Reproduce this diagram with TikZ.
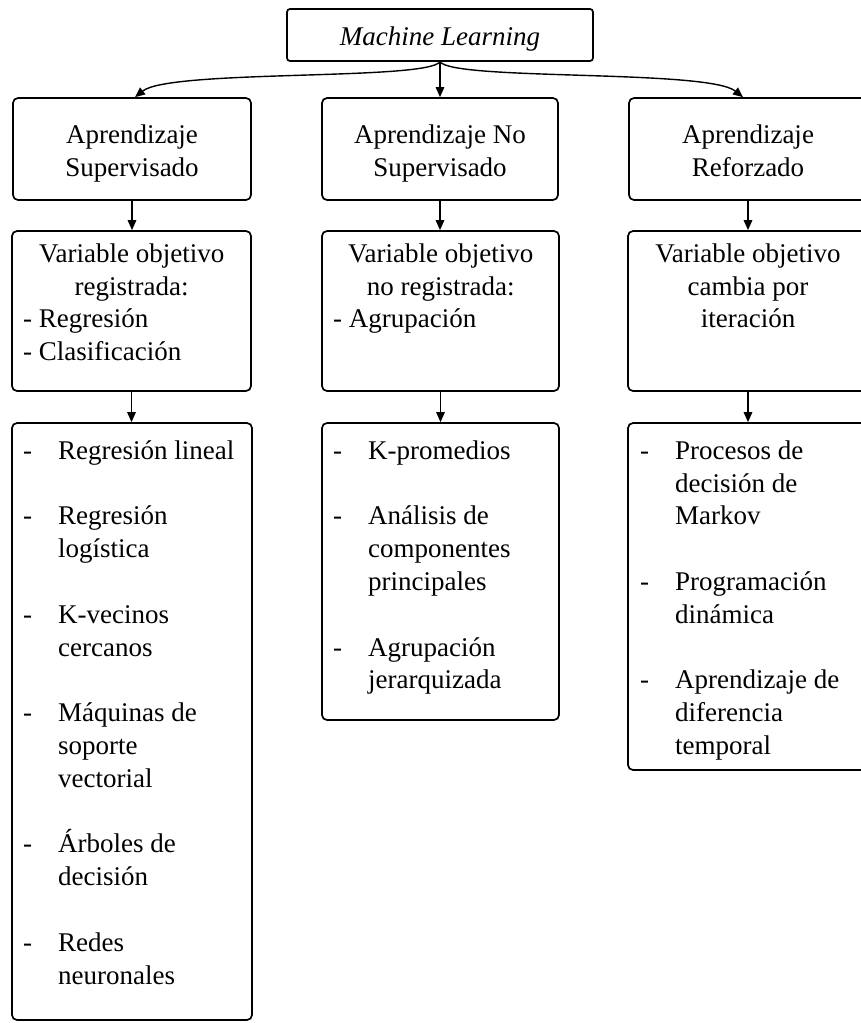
\documentclass[tikz,border=0pt]{standalone}
\usepackage{fontspec}
\setmainfont{Liberation Serif}
\usetikzlibrary{arrows.meta}
\begin{document}
\begin{tikzpicture}[x=1pt,y=-1pt,
  box/.style={draw, line width=1.7pt, rounded corners=5pt, inner sep=0pt},
  txt/.style={inner sep=0pt, font=\fontsize{27}{32.8}\selectfont},
  arr/.style={line width=1.4pt, -{Triangle[length=10pt,width=8.5pt]}}]
\useasboundingbox (0,0) rectangle (860,1023);
\newcommand{\fst}{\rule{0pt}{20pt}}
\newcommand{\itm}{\makebox[35pt][l]{-}}
\newcommand{\cnt}{\hspace*{35pt}}
% top
\node[box, rounded corners=3pt, minimum width=306pt, minimum height=52pt] (ml) at (440,35) {};
\node[txt, anchor=base, font=\fontsize{27}{32.8}\selectfont\itshape] (mlt) at (440,45) {Machine Learning};
% level 2
\node[box, minimum width=238pt, minimum height=102pt] (sup) at (132,149) {};
\node[box, minimum width=236pt, minimum height=102pt] (uns) at (440,149) {};
\node[box, minimum width=238pt, minimum height=102pt] (ref) at (748,149) {};
\node[txt, align=center, anchor=north] (supt) at (132,123) {\fst Aprendizaje\\Supervisado};
\node[txt, align=center, anchor=north] (unst) at (440,123) {\fst Aprendizaje No\\Supervisado};
\node[txt, align=center, anchor=north] (reft) at (748,123) {\fst Aprendizaje\\Reforzado};
% level 3
\node[box, minimum width=239pt, minimum height=160pt] (v1) at (131.5,311) {};
\node[box, minimum width=237pt, minimum height=160pt] (v2) at (440.5,311) {};
\node[box, minimum width=240pt, minimum height=160pt] (v3) at (748,311) {};
\node[txt, align=left, anchor=north west] (v1t) at (23,242)
  {\fst\makebox[217pt][c]{Variable objetivo}\\\makebox[217pt][c]{registrada:}\\- Regresión\\- Clasificación};
\node[txt, align=left, anchor=north west] (v2t) at (333,242)
  {\fst\makebox[215pt][c]{Variable objetivo}\\\makebox[215pt][c]{no registrada:}\\- Agrupación};
\node[txt, align=center, anchor=north] (v3t) at (748,242)
  {\fst Variable objetivo\\cambia por\\iteración};
% level 4
\node[box, minimum width=240pt, minimum height=597pt] (l1) at (132,721.5) {};
\node[box, minimum width=237pt, minimum height=297pt] (l2) at (440.5,571.5) {};
\node[box, minimum width=240pt, minimum height=347pt] (l3) at (748,596.5) {};
\node[txt, align=left, anchor=north west] (l1t) at (23,439)
  {\fst\itm Regresión lineal\\[32.8pt]
   \itm Regresión\\\cnt logística\\[32.8pt]
   \itm K-vecinos\\\cnt cercanos\\[32.8pt]
   \itm Máquinas de\\\cnt soporte\\\cnt vectorial\\[32.8pt]
   \itm Árboles de\\\cnt decisión\\[32.8pt]
   \itm Redes\\\cnt neuronales};
\node[txt, align=left, anchor=north west] (l2t) at (333,439)
  {\fst\itm K-promedios\\[32.8pt]
   \itm Análisis de\\\cnt componentes\\\cnt principales\\[32.8pt]
   \itm Agrupación\\\cnt jerarquizada};
\node[txt, align=left, anchor=north west] (l3t) at (640,439)
  {\fst\itm Procesos de\\\cnt decisión de\\\cnt Markov\\[32.8pt]
   \itm Programación\\\cnt dinámica\\[32.8pt]
   \itm Aprendizaje de\\\cnt diferencia\\\cnt temporal};
% connectors
\draw[arr] (ml.south) -- (uns.north);
\draw[arr] (ml.south) .. controls +(-15,19) and +(35,-28) .. ([xshift=3pt]sup.north);
\draw[arr] (ml.south) .. controls +(15,19) and +(-35,-28) .. ([xshift=-5pt]ref.north);
\draw[arr] (sup.south) -- (sup.south |- v1.north);
\draw[arr] (uns.south) -- (uns.south |- v2.north);
\draw[arr] (ref.south) -- (ref.south |- v3.north);
\draw[arr] (v1.south) -- (v1.south |- l1.north);
\draw[arr] (v2.south) -- (v2.south |- l2.north);
\draw[arr] (v3.south) -- (v3.south |- l3.north);
\end{tikzpicture}
\end{document}
